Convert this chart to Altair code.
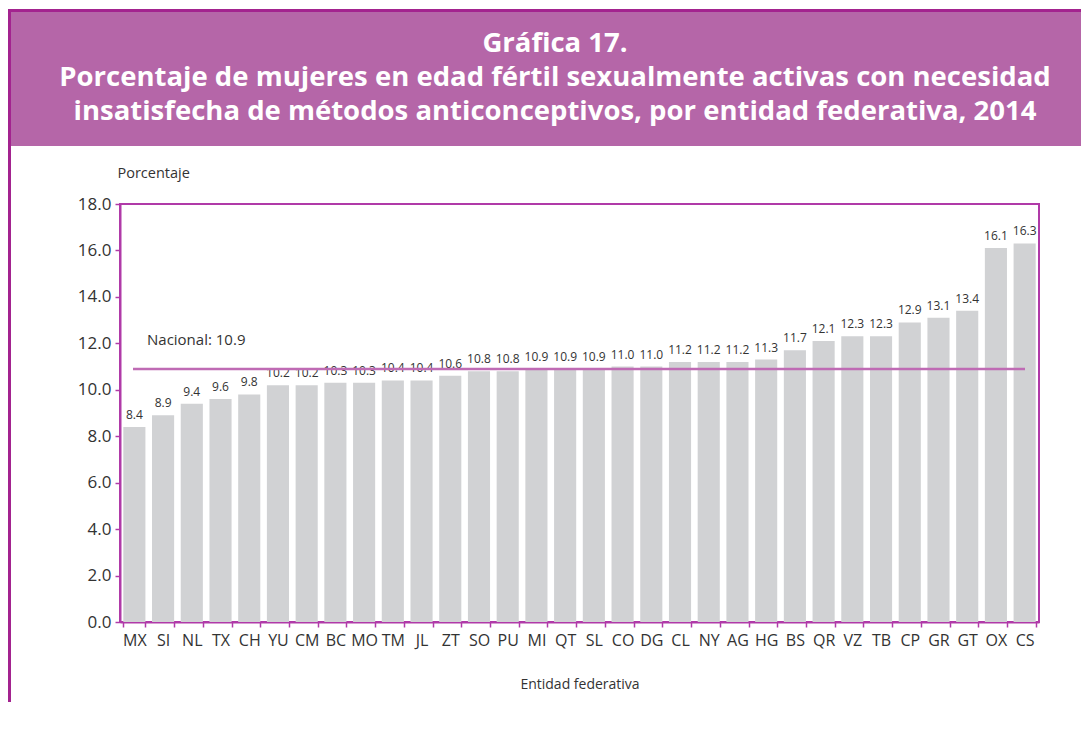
import altair as alt
import pandas as pd

estados = ["MX", "SI", "NL", "TX", "CH", "YU", "CM", "BC", "MO", "TM", "JL", "ZT",
           "SO", "PU", "MI", "QT", "SL", "CO", "DG", "CL", "NY", "AG", "HG", "BS",
           "QR", "VZ", "TB", "CP", "GR", "GT", "OX", "CS"]
porcentaje = [8.4, 8.9, 9.4, 9.6, 9.8, 10.2, 10.2, 10.3, 10.3, 10.4, 10.4, 10.6,
              10.8, 10.8, 10.9, 10.9, 10.9, 11.0, 11.0, 11.2, 11.2, 11.2, 11.3, 11.7,
              12.1, 12.3, 12.3, 12.9, 13.1, 13.4, 16.1, 16.3]
NACIONAL = 10.9
y_ticks = [0, 2, 4, 6, 8, 10, 12, 14, 16, 18]
titulo = "Gráfica 17."
subtitulo = ["Porcentaje de mujeres en edad fértil sexualmente activas con necesidad",
             "insatisfecha de métodos anticonceptivos, por entidad federativa, 2014"]

MAGENTA = "#B03AA8"
HEADER = "#B566A8"
BORDER = "#A3238F"
BAR = "#D1D2D4"
NAC = "#BF6BB4"
TXT = "#333333"
FONT = "Open Sans"

W, H = 919, 418

df = pd.DataFrame({"estado": estados, "valor": porcentaje})
one = pd.DataFrame({"a": [0]})
df_nac = pd.DataFrame({"v": [NACIONAL], "lab": [f"Nacional: {NACIONAL}"]})

x_enc = alt.X("estado:N", sort=estados,
              scale=alt.Scale(paddingInner=0.23, paddingOuter=0.115),
              axis=alt.Axis(title="Entidad federativa", labelAngle=0, tickBand="extent",
                            labelFontSize=16, labelColor=TXT, labelFont=FONT, labelPadding=5,
                            tickSize=5, tickColor=MAGENTA, tickWidth=1.5,
                            domainColor=MAGENTA, domainWidth=2,
                            titleFont=FONT, titleFontSize=14, titleFontWeight="normal",
                            titleColor=TXT, titlePadding=29))
y_enc = alt.Y("valor:Q", scale=alt.Scale(domain=[0, 18], nice=False),
              axis=alt.Axis(values=y_ticks, format=".1f", grid=False,
                            labelFontSize=17, labelColor=TXT, labelFont=FONT, labelPadding=4,
                            tickSize=5, tickColor=MAGENTA, tickWidth=1.5,
                            domainColor=MAGENTA, domainWidth=2,
                            title="Porcentaje", titleAngle=0, titleX=-3, titleY=-31,
                            titleAlign="left", titleBaseline="middle",
                            titleFont=FONT, titleFontSize=14.5, titleFontWeight="normal",
                            titleColor=TXT))

header = alt.Chart(one).mark_rect(color=HEADER).encode(
    x=alt.value(-110), x2=alt.value(W + 42), y=alt.value(-193), y2=alt.value(-58))
frame_left = alt.Chart(one).mark_rule(color=BORDER, strokeWidth=3).encode(
    x=alt.value(-110.5), y=alt.value(-194.5), y2=alt.value(H + 80))
frame_top = alt.Chart(one).mark_rule(color=BORDER, strokeWidth=3).encode(
    x=alt.value(-112), x2=alt.value(W + 42), y=alt.value(-193.5))

def title_line(txt, ypos):
    return alt.Chart(one).mark_text(font=FONT, fontWeight="bold", fontSize=27.5, color="white",
                                    align="center", baseline="alphabetic").encode(
        x=alt.value(435), y=alt.value(ypos), text=alt.value(txt))

t1 = title_line(titulo, -152)
t2 = title_line(subtitulo[0], -118)
t3 = title_line(subtitulo[1], -84)

bars = alt.Chart(df).mark_bar(color=BAR).encode(x=x_enc, y=y_enc)
labels = alt.Chart(df).mark_text(font=FONT, fontSize=12, color=TXT, dy=-8,
                                 baseline="alphabetic").encode(
    x=alt.X("estado:N", sort=estados), y=alt.Y("valor:Q"),
    text=alt.Text("valor:Q", format=".1f"))
nac_rule = alt.Chart(df_nac).mark_rule(color=NAC, strokeWidth=2.5).encode(
    y=alt.Y("v:Q"), x=alt.value(13), x2=alt.value(905))
nac_text = alt.Chart(df_nac).mark_text(font=FONT, fontSize=15, color=TXT, align="left",
                                       baseline="alphabetic", dy=-24).encode(
    y=alt.Y("v:Q"), x=alt.value(27), text="lab:N")

chart = alt.layer(header, frame_left, frame_top, t1, t2, t3, bars, labels, nac_rule, nac_text).properties(
    width=W, height=H,
    autosize=alt.AutoSizeParams(type="none"),
    padding={"left": 112, "top": 196, "right": 42, "bottom": 80},
).configure_view(stroke=MAGENTA, strokeWidth=2)

chart.save("out.html", embed_options={"renderer": "svg", "actions": False})
